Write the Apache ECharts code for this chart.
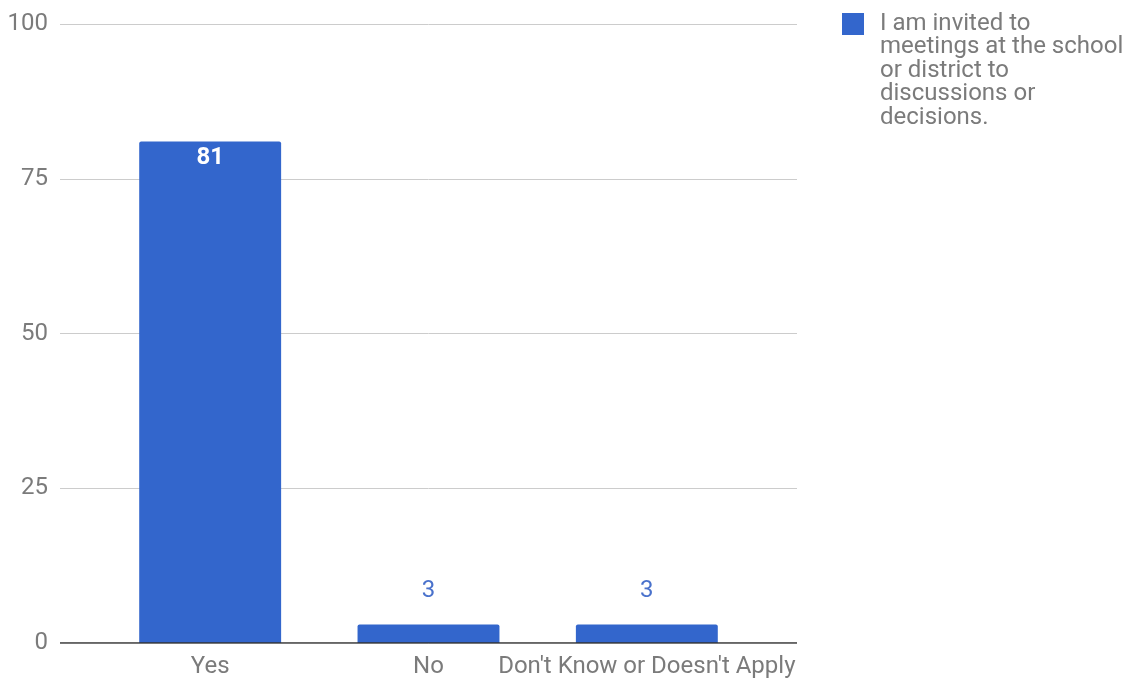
<!DOCTYPE html>
<html><head><meta charset="utf-8">
<script src="https://cdn.jsdelivr.net/npm/echarts@6/dist/echarts.min.js"></script>
<style>html,body{margin:0;padding:0;background:#fff}#c{width:1133px;height:683px}</style>
</head><body><div id="c"></div>
<script>
const categories = ["Yes", "No", "Don't Know or Doesn't Apply"];
const values = [81, 3, 3];
const seriesName = "I am invited to meetings at the school or district to discussions or decisions.";
const legendLines = ["I am invited to", "meetings at the school", "or district to", "discussions or", "decisions."];

const chart = echarts.init(document.getElementById('c'));
const FONT = 'Roboto';
const GRAY = '#7b7b7b';
chart.setOption({
  animation: false,
  textStyle: { fontFamily: FONT },
  grid: [
    { left: 60, right: 336, top: 24, bottom: 40 },
    { left: 101, right: 377, top: 24, bottom: 40 }
  ],
  xAxis: [
    { gridIndex: 0, type: 'value', min: 0, max: 1, show: true,
      axisLine: { show: false }, axisTick: { show: false }, axisLabel: { show: false }, splitLine: { show: false } },
    { gridIndex: 1, type: 'category', data: categories,
      axisLine: { show: false }, axisTick: { show: false },
      axisLabel: { color: GRAY, fontSize: 24, margin: 12, fontFamily: FONT, interval: 0 } }
  ],
  yAxis: [
    { gridIndex: 0, type: 'value', min: 0, max: 100, interval: 25,
      axisLine: { show: false }, axisTick: { show: false },
      axisLabel: { color: GRAY, fontSize: 24, margin: 12, fontFamily: FONT },
      splitLine: { lineStyle: { color: '#cccccc', width: 1 } } },
    { gridIndex: 1, type: 'value', min: 0, max: 100, interval: 25, show: false }
  ],
  legend: {
    left: 837, top: 7, orient: 'vertical',
    itemWidth: 22, itemHeight: 22, icon: 'rect',
    data: [seriesName],
    formatter: function () { return legendLines[0]; },
    textStyle: { color: GRAY, fontSize: 24, fontFamily: FONT, padding: [0, 0, 0, 11] }
  },
  graphic: [{
    type: 'text', left: 880, top: 35, silent: true,
    style: { text: legendLines.slice(1).join('\n'), fill: GRAY, font: '24px Roboto', lineHeight: 23.5 }
  }],
  series: [
    { type: 'bar', name: seriesName, xAxisIndex: 1, yAxisIndex: 1,
      data: values.map(v => v > 50
        ? { value: v, label: { position: 'insideTop', distance: 4, color: '#ffffff', fontWeight: 'bold' } }
        : v),
      barWidth: '65%',
      itemStyle: { color: '#3366cc', borderRadius: [2, 2, 0, 0] },
      label: { show: true, fontSize: 24, fontFamily: FONT, position: 'top', distance: 21, color: '#4a72cc' }
    },
    { type: 'line', xAxisIndex: 0, yAxisIndex: 0, data: [[0, 0], [1, 0]],
      symbol: 'none', lineStyle: { color: '#333333', width: 1.5 }, silent: true }
  ]
});
</script></body></html>
